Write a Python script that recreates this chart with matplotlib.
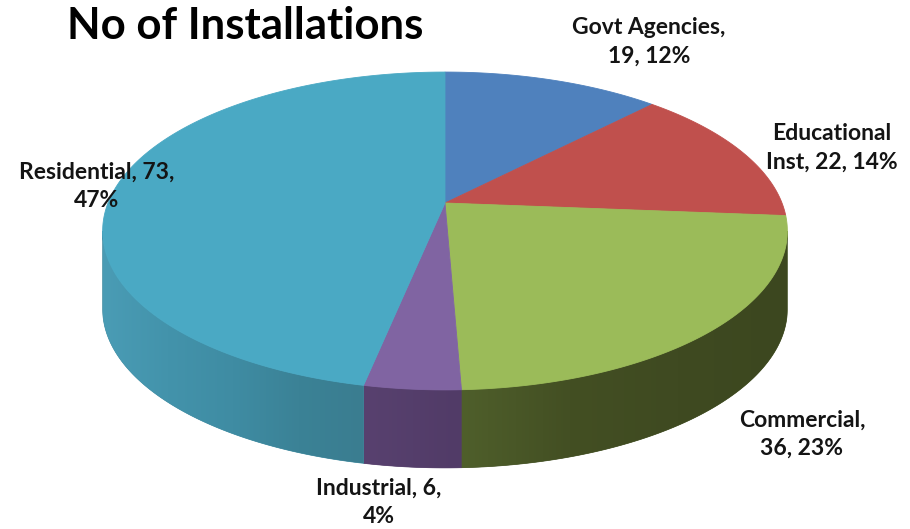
import numpy as np
import matplotlib
matplotlib.use("Agg")
import matplotlib.pyplot as plt
from matplotlib.colors import to_rgb
from matplotlib.patches import Polygon

# ---- data ----
categories = ["Govt Agencies", "Educational Inst", "Commercial", "Industrial", "Residential"]
values = [19, 22, 36, 6, 73]
label_texts = ["Govt Agencies,\n19, 12%", "Educational\nInst, 22, 14%", "Commercial,\n36, 23%",
               "Industrial, 6,\n4%", "Residential, 73,\n47%"]

# ---- style ----
top_colors = ["#4F81BD", "#C0504D", "#9BBB59", "#8064A2", "#4AA9C4"]
# gradient stops (left -> right) for the visible side of each slice
side_colors = [["#3A5F8C", "#33547C"],
               ["#8E3B39", "#7F3533"],
               ["#4F5F2B", "#434F23", "#3F4A21", "#3C471F"],
               ["#58416F", "#513B67"],
               ["#4A9CB5", "#4393AB", "#3F8CA3", "#3B8296", "#3A7D90"]]
label_pos = [(649, 42), (832, 148), (802, 434), (379, 502), (97, 186)]

CX, CY = 445.0, 203.0            # projected pie centre (pixels)
C, A, B = 337.0, 154.0, 0.176    # perspective ellipse parameters
DEPTH = 78.0

def proj(theta_deg):
    t = np.radians(theta_deg)
    d = 1 + B * np.sin(t)
    return CX + C * np.cos(t) / d, CY - A * np.sin(t) / d

fig = plt.figure(figsize=(9.10, 5.29), dpi=100)
ax = fig.add_axes([0, 0, 1, 1])
ax.axis("off")

total = float(sum(values))
angles = [90.0]
for v in values:
    angles.append(angles[-1] - 360.0 * v / total)

sil = np.degrees(np.arcsin(-B))          # right silhouette (about -10 deg)
vis_lo, vis_hi = -180.0 - sil, sil       # visible side range (about -170 .. -10)

# sides
for i in range(len(values)):
    a0, a1 = angles[i], angles[i + 1]   # clockwise: a0 > a1
    hi = min(a0, vis_hi)
    lo = max(a1, vis_lo)
    if hi <= lo:
        continue
    ts = np.linspace(lo, hi, 200)
    x, y = proj(ts)
    xs = np.concatenate([x, x[::-1]])
    ys = np.concatenate([y, (y + DEPTH)[::-1]])
    stops = [np.array(to_rgb(c)) for c in side_colors[i]]
    mid = np.mean(stops, axis=0)
    poly = Polygon(np.column_stack([xs, ys]), closed=True, facecolor=mid,
                   edgecolor=mid, lw=0.5, zorder=1)
    ax.add_patch(poly)
    xmin, xmax = xs.min(), xs.max()
    ncol = 400
    fpos = np.linspace(0, 1, ncol)
    sp = np.linspace(0, 1, len(stops))
    grad = np.stack([np.interp(fpos, sp, [s[c] for s in stops]) for c in range(3)], axis=-1)
    im = ax.imshow(grad[None, :, :], extent=(xmin, xmax, ys.max(), ys.min()),
                   aspect="auto", interpolation="bilinear", zorder=1.1)
    im.set_clip_path(poly)

# tops
for i in range(len(values)):
    a0, a1 = angles[i], angles[i + 1]
    ts = np.linspace(a0, a1, 200)
    x, y = proj(ts)
    xs = np.concatenate([[CX], x, [CX]])
    ys = np.concatenate([[CY], y, [CY]])
    ax.fill(xs, ys, color=top_colors[i], lw=0.6, ec=top_colors[i], zorder=2)

ax.set_xlim(0, 910)
ax.set_ylim(529, 0)

font = ["Lato", "DejaVu Sans"]
for txt, (x, y) in zip(label_texts, label_pos):
    ax.text(x, y, txt, ha="center", va="center", multialignment="center",
            fontsize=16.5, fontweight="bold", family=font, color="#141414",
            linespacing=1.42, zorder=5)

ax.text(245, 26, "No of Installations", ha="center", va="center", fontsize=31.5,
        fontweight="bold", family=font, color="#000000", zorder=5)

fig.savefig("out.png", dpi=100)
